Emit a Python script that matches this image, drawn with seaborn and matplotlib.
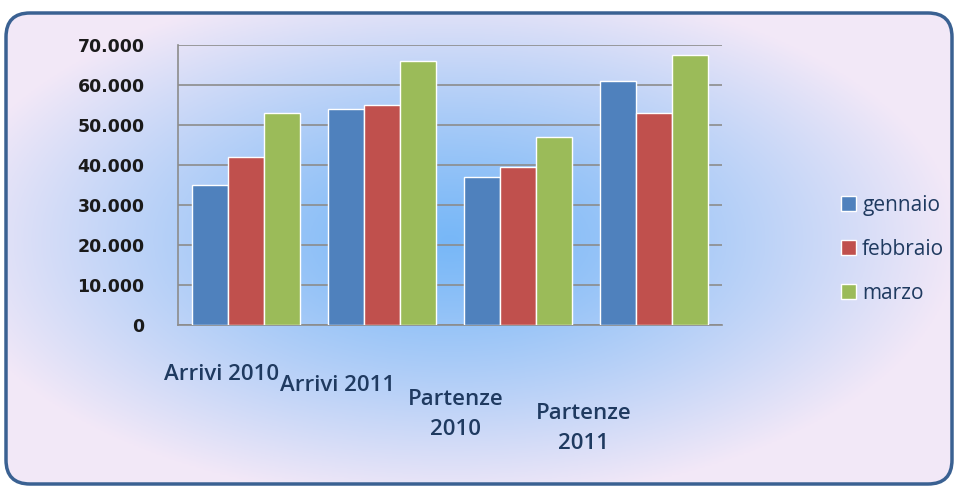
import numpy as np
import pandas as pd
import matplotlib.pyplot as plt
import seaborn as sns
from matplotlib.patches import FancyBboxPatch
from matplotlib.ticker import FuncFormatter

categorie = ['Arrivi 2010', 'Arrivi 2011', 'Partenze\n2010', 'Partenze\n2011']
mesi = ['gennaio', 'febbraio', 'marzo']
gennaio = [35000, 54000, 37000, 61000]
febbraio = [42000, 55000, 39500, 53000]
marzo = [53000, 66000, 47000, 67500]
colori = ['#4F81BD', '#C0504D', '#9BBB59']

df = pd.DataFrame({
    'categoria': categorie * 3,
    'mese': [m for m in mesi for _ in categorie],
    'valore': gennaio + febbraio + marzo,
})

sns.set_style('white')
plt.rcParams['font.family'] = ['DejaVu Sans']

fig = plt.figure(figsize=(9.56, 4.88), dpi=100)
fig.patch.set_facecolor('white')

# sfondo con cornice arrotondata e sfumatura radiale
bg = fig.add_axes([0, 0, 1, 1])
bg.set_xlim(0, 956)
bg.set_ylim(488, 0)
bg.axis('off')
xx, yy = np.meshgrid(np.linspace(0, 956, 400), np.linspace(0, 488, 220))
r = np.sqrt(((xx - 450) / 560) ** 2 + ((yy - 240) / 290) ** 2)
t = np.clip(r * 1.1, 0, 1)[..., None] ** 1.2
centro = np.array([0.47, 0.72, 0.97])
bordo = np.array([0.95, 0.91, 0.97])
img = centro * (1 - t) + bordo * t
frame = FancyBboxPatch((6, 13), 946, 471, boxstyle='round,pad=0,rounding_size=24',
                       facecolor='none', edgecolor='#3A6192', linewidth=2.5, zorder=3)
bg.add_patch(frame)
im = bg.imshow(img, extent=(0, 956, 488, 0), aspect='auto', zorder=1)
im.set_clip_path(frame)

ax = fig.add_axes([178 / 956, 1 - 325 / 488, (722 - 178) / 956, (325 - 45) / 488])
ax.patch.set_alpha(0)
sns.barplot(data=df, x='categoria', y='valore', hue='mese', palette=colori,
            saturation=1, width=0.8, ax=ax, zorder=3)

ax.set_ylim(0, 70000)
ax.set_yticks(range(0, 70001, 10000))
ax.yaxis.set_major_formatter(FuncFormatter(lambda v, p: f'{int(v):,}'.replace(',', '.')))
ax.grid(axis='y', color='#8C8C8C', linewidth=1.2, zorder=0)
ax.set_axisbelow(True)
for s in ['top', 'right']:
    ax.spines[s].set_visible(False)
for s in ['left', 'bottom']:
    ax.spines[s].set_color('#8C8C8C')
    ax.spines[s].set_linewidth(1.2)
ax.tick_params(axis='y', length=6, color='#8C8C8C', pad=18)
ax.set_xlabel('')
ax.set_ylabel('')
for lab in ax.get_yticklabels():
    lab.set_fontweight('bold')
    lab.set_fontsize(12.5)
    lab.set_color('#1A1A1A')

# etichette delle categorie, sfalsate come nella vista in prospettiva
ax.set_xticklabels([])
ax.tick_params(axis='x', length=0)
sposta_x = [-0.18, -0.33, -0.46, -0.52]
sposta_y = [0.05, 0.09, 0.137, 0.187]
for i, (cat, dx, dy) in enumerate(zip(categorie, sposta_x, sposta_y)):
    ax.text(i + dx, -0.09 - dy, cat, transform=ax.get_xaxis_transform(),
            ha='center', va='top', fontsize=16, fontfamily='Open Sans',
            fontweight='semibold', color='#1F3A60', linespacing=1.6)

leg = ax.legend(loc='center left', bbox_to_anchor=(1.185, 0.27), frameon=False,
                handlelength=0.7, handleheight=0.7, handletextpad=0.3, labelspacing=1.1,
                prop={'family': 'Open Sans', 'size': 15})
for txt in leg.get_texts():
    txt.set_color('#1F3A60')

fig.savefig('out.png', dpi=100)
